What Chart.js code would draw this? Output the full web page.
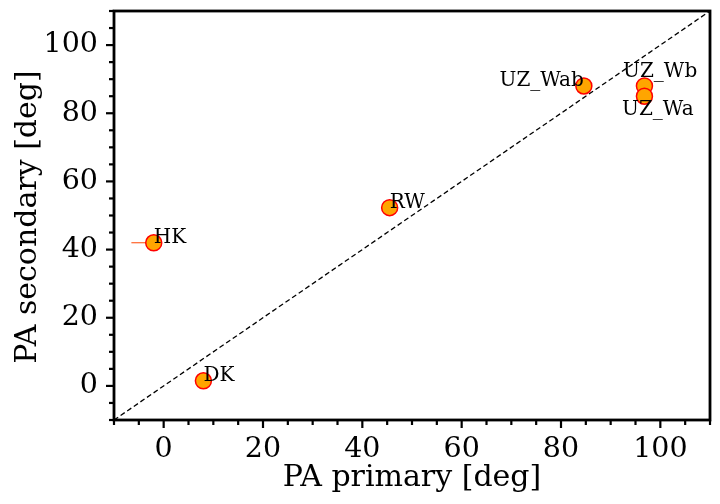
<!DOCTYPE html>
<html>
<head>
<meta charset="utf-8">
<script src="https://cdn.jsdelivr.net/npm/chart.js@4.4.1/dist/chart.umd.min.js"></script>
<style>
  html, body { margin: 0; padding: 0; background: #fff; }
  #wrap { width: 720px; height: 504px; }
</style>
</head>
<body>
<div id="wrap"><canvas id="myChart" width="720" height="504"></canvas></div>
<script>
// dados das estrelas
var nomes = ['DK', 'HK', 'RW', 'UZ_Wab', 'UZ_Wb', 'UZ_Wa'];
var paPrimario = [8, -2, 45.5, 84.6, 96.8, 96.8];
var paSecundario = [1.5, 42, 52.3, 88, 88, 85];
var erroXmenos = [0, 4.5, 0, 0, 0, 0];
var erroXmais = [0, 0, 0, 0, 0, 0];

// onde fica cada rotulo (em unidades dos dados)
var rotuloX = [8, -2, 45.5, 84.6, 92.5, 92.3];
var rotuloY = [1.5, 42, 52.3, 88, 90.6, 79.5];
var rotuloAlinha = ['left', 'left', 'left', 'right', 'left', 'left'];

var limites = [-10, 110];
var fonte = "'DejaVu Serif', serif";

var pontos = paPrimario.map(function (x, i) {
    return { x: x, y: paSecundario[i] };
});

// ticks, barras de erro, rotulos e titulos dos eixos
var extras = {
    id: 'extras',
    beforeDatasetsDraw: function (chart) {
        var ctx = chart.ctx;
        var xs = chart.scales.x, ys = chart.scales.y;
        ctx.save();
        ctx.strokeStyle = '#ff4500';
        ctx.lineWidth = 1;
        for (var i = 0; i < pontos.length; i++) {
            if (!erroXmenos[i] && !erroXmais[i]) continue;
            var py = ys.getPixelForValue(paSecundario[i]);
            ctx.beginPath();
            ctx.moveTo(xs.getPixelForValue(paPrimario[i] - erroXmenos[i]), py);
            ctx.lineTo(xs.getPixelForValue(paPrimario[i] + erroXmais[i]), py);
            ctx.stroke();
        }
        ctx.restore();
    },
    afterDraw: function (chart) {
        var ctx = chart.ctx;
        var xs = chart.scales.x, ys = chart.scales.y;
        var a = chart.chartArea;
        ctx.save();
        // moldura
        ctx.strokeStyle = '#000';
        ctx.lineWidth = 2.8;
        ctx.strokeRect(a.left, a.top, a.right - a.left, a.bottom - a.top);
        // ticks
        ctx.lineWidth = 2.2;
        xs.ticks.forEach(function (t) {
            var p = xs.getPixelForValue(t.value);
            var len = t.value % 20 === 0 ? 8 : 5;
            ctx.beginPath();
            ctx.moveTo(p, a.bottom);
            ctx.lineTo(p, a.bottom + len);
            ctx.stroke();
        });
        ys.ticks.forEach(function (t) {
            var p = ys.getPixelForValue(t.value);
            var len = t.value % 20 === 0 ? 8 : 5;
            ctx.beginPath();
            ctx.moveTo(a.left, p);
            ctx.lineTo(a.left - len, p);
            ctx.stroke();
        });
        // rotulos
        ctx.fillStyle = '#000';
        ctx.font = '20px ' + fonte;
        ctx.textBaseline = 'alphabetic';
        for (var i = 0; i < nomes.length; i++) {
            ctx.textAlign = rotuloAlinha[i];
            ctx.fillText(nomes[i], xs.getPixelForValue(rotuloX[i]), ys.getPixelForValue(rotuloY[i]));
        }
        // titulos dos eixos
        ctx.font = '30px ' + fonte;
        ctx.textAlign = 'center';
        ctx.fillText('PA primary [deg]', (a.left + a.right) / 2, 486);
        ctx.translate(36, 217);
        ctx.rotate(-Math.PI / 2);
        ctx.fillText('PA secondary [deg]', 0, 0);
        ctx.restore();
    }
};

var eixo = function (pad, ajuste) {
    return {
        type: 'linear',
        min: limites[0],
        max: limites[1],
        grid: { display: false },
        border: { display: false },
        ticks: {
            stepSize: 5,
            autoSkip: false,
            maxRotation: 0,
            padding: pad,
            color: '#000',
            font: { family: fonte, size: 28.5 },
            callback: function (v) { return v % 20 === 0 ? v : ''; }
        },
        afterFit: function (s) {
            ajuste(s);
            s.paddingTop = 0;
            s.paddingBottom = 0;
            s.paddingLeft = 0;
            s.paddingRight = 0;
        }
    };
};

var ctx = document.getElementById('myChart');
window.myChart = new Chart(ctx, {
    type: 'scatter',
    data: {
        datasets: [{
            label: 'estrelas',
            data: pontos,
            backgroundColor: '#ffa500',
            borderColor: '#ff0000',
            borderWidth: 1.5,
            pointRadius: 8,
            pointHoverRadius: 8
        }, {
            type: 'line',
            label: 'y = x',
            data: [{ x: limites[0], y: limites[0] }, { x: limites[1], y: limites[1] }],
            borderColor: '#000',
            borderWidth: 1.3,
            borderDash: [5, 3],
            pointRadius: 0,
            fill: false
        }]
    },
    options: {
        responsive: false,
        animation: false,
        layout: { padding: { left: 0, right: 10, top: 11, bottom: 0 } },
        plugins: {
            legend: { display: false },
            tooltip: { enabled: false }
        },
        scales: {
            x: eixo(4, function (s) { s.height = 84; }),
            y: eixo(8, function (s) { s.width = 114; })
        }
    },
    plugins: [extras]
});
</script>
</body>
</html>
